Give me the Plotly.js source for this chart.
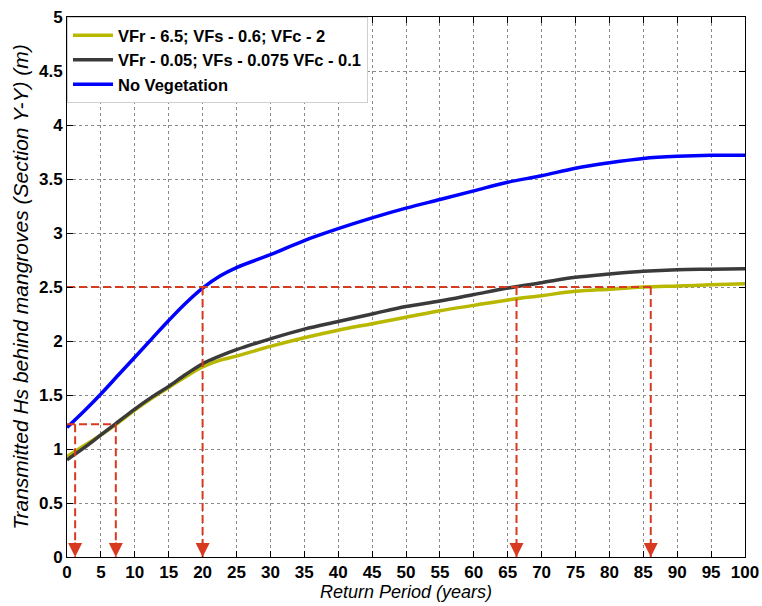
<!DOCTYPE html>
<html>
<head>
<meta charset="utf-8">
<script src="https://cdn.plot.ly/plotly-3.0.1.min.js"></script>
<style>html,body{margin:0;padding:0;background:#fff;}#chart{width:762px;height:606px;}</style>
</head>
<body>
<div id="chart"></div>
<script>
var returnPeriod = [0, 2.5, 5, 7.5, 10, 12.5, 15, 17.5, 20, 22.5, 25, 30, 35, 40, 45, 50, 55, 60, 65, 70, 75, 80, 85, 90, 95, 100];
var hsVegHigh = [0.93, 1.03, 1.13, 1.24, 1.36, 1.47, 1.57, 1.67, 1.76, 1.82, 1.86, 1.95, 2.03, 2.10, 2.16, 2.22, 2.28, 2.33, 2.38, 2.42, 2.46, 2.48, 2.50, 2.51, 2.52, 2.53];
var hsVegLow = [0.90, 1.01, 1.13, 1.25, 1.37, 1.48, 1.58, 1.69, 1.79, 1.86, 1.92, 2.02, 2.11, 2.18, 2.25, 2.32, 2.37, 2.43, 2.49, 2.54, 2.59, 2.62, 2.645, 2.66, 2.665, 2.67];
var hsNoVeg = [1.20, 1.35, 1.51, 1.68, 1.85, 2.02, 2.19, 2.35, 2.49, 2.60, 2.68, 2.80, 2.93, 3.04, 3.14, 3.23, 3.31, 3.39, 3.47, 3.53, 3.60, 3.65, 3.69, 3.71, 3.72, 3.72];
var seriesNames = ['VFr - 6.5; VFs - 0.6; VFc - 2', 'VFr - 0.05; VFs - 0.075 VFc - 0.1', 'No Vegetation'];
var lowLevel = 1.23;
var lowReadX = [1.2, 7.2];
var highLevel = 2.5;
var highReadX = [20, 66.3, 86.1];
var xTicks = [0,5,10,15,20,25,30,35,40,45,50,55,60,65,70,75,80,85,90,95,100];
var yTicks = [0,0.5,1,1.5,2,2.5,3,3.5,4,4.5,5];

var red = '#d83a1f';
var fontFam = 'Liberation Sans, Arial, sans-serif';

function guide(level, xs) {
  var gx = [0, xs[xs.length - 1], null];
  var gy = [level, level, null];
  xs.forEach(function (v) { gx.push(v, v, null); gy.push(level, 0, null); });
  return {x: gx, y: gy, mode: 'lines', showlegend: false, hoverinfo: 'skip',
    line: {color: red, width: 2, dash: '8px,4px'}};
}
function boldLabels(vals) { return vals.map(function (v) { return '<b>' + v + '</b>'; }); }

var traces = [
  {x: returnPeriod, y: hsVegHigh, name: seriesNames[0], mode: 'lines', line: {color: '#b8b800', width: 3.5, shape: 'spline'}},
  {x: returnPeriod, y: hsVegLow, name: seriesNames[1], mode: 'lines', line: {color: '#3a3a3a', width: 3.5, shape: 'spline'}},
  {x: returnPeriod, y: hsNoVeg, name: seriesNames[2], mode: 'lines', line: {color: '#0000ff', width: 3.5, shape: 'spline'}},
  guide(lowLevel, lowReadX),
  guide(highLevel, highReadX)
];

var annotations = lowReadX.concat(highReadX).map(function (v) {
  return {x: v, y: 0, xref: 'x', yref: 'y', ax: 0, ay: -16, showarrow: true,
    arrowhead: 2, arrowsize: 1.4, arrowwidth: 2, arrowcolor: red, standoff: 0, text: ''};
});

var axisCommon = {
  showline: true, linecolor: '#000', linewidth: 1, mirror: 'ticks',
  ticks: 'inside', ticklen: 6, tickcolor: '#000',
  showgrid: true, gridcolor: '#8a8a8a', griddash: 'dot', gridwidth: 1,
  zeroline: false, tickmode: 'array',
  tickfont: {family: fontFam, size: 17, color: '#000', weight: 700}
};

var layout = {
  width: 762, height: 606,
  margin: {l: 67, r: 17, t: 17, b: 49},
  paper_bgcolor: '#fff', plot_bgcolor: '#fff',
  xaxis: Object.assign({}, axisCommon, {range: [0, 100], tickvals: xTicks, ticktext: boldLabels(xTicks),
    title: {text: 'Return Period (years)', font: {family: fontFam, size: 18, style: 'italic', color: '#000'}, standoff: 3}}),
  yaxis: Object.assign({}, axisCommon, {range: [0, 5], tickvals: yTicks, ticktext: boldLabels(yTicks),
    title: {text: 'Transmitted Hs behind mangroves (Section Y-Y) (m)', font: {family: fontFam, size: 21, style: 'italic', color: '#000'}, standoff: 4}}),
  legend: {x: 0, y: 1, xanchor: 'left', yanchor: 'top', bgcolor: '#fff',
    bordercolor: '#cfcfcf', borderwidth: 1, itemwidth: 40,
    font: {family: fontFam, size: 16.5, color: '#000', weight: 'bold'}, tracegroupgap: 0},
  annotations: annotations,
  showlegend: true
};

Plotly.newPlot('chart', traces, layout, {displayModeBar: false, staticPlot: true});
</script>
</body>
</html>
